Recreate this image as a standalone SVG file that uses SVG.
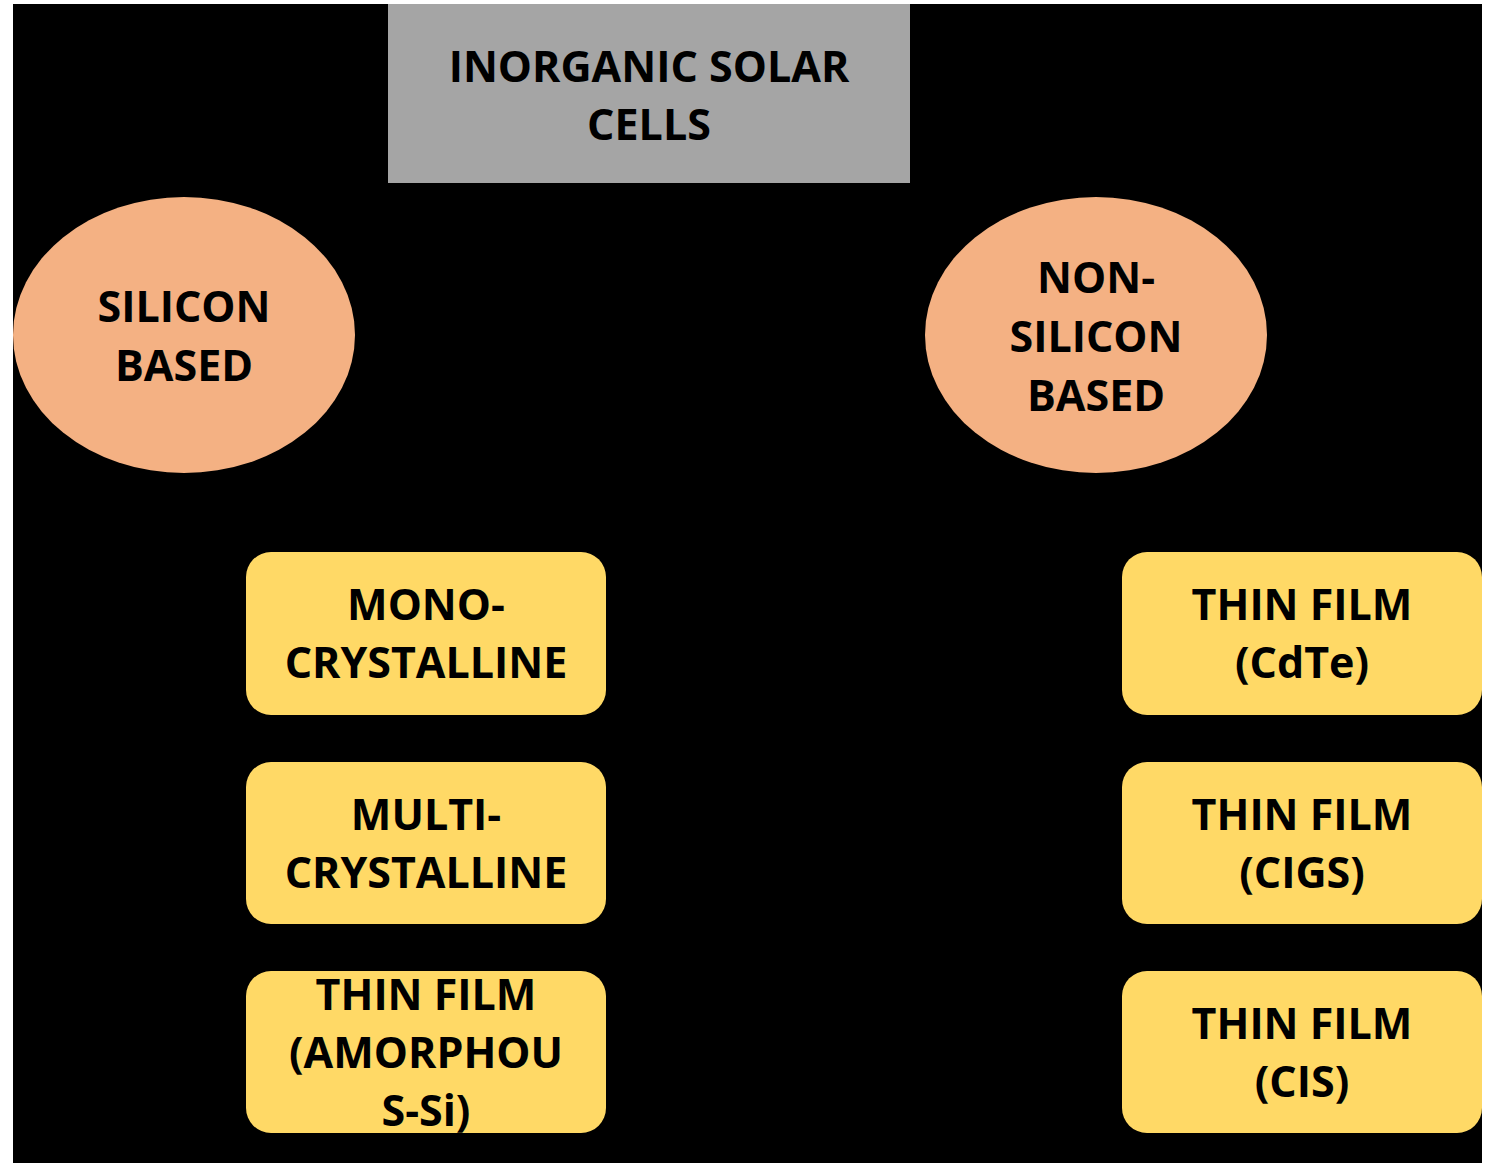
<svg xmlns="http://www.w3.org/2000/svg" width="1494" height="1164" viewBox="0 0 1494 1164">
<style>
.t{font-family:"Open Sans",Lato,"Liberation Sans",sans-serif;font-weight:bold;font-size:43px;fill:#000;text-anchor:middle}
.box{fill:#ffd966}
.ell{fill:#f4b183}
</style>
<rect x="0" y="0" width="1494" height="1164" fill="#fff"/>
<rect x="13" y="4" width="1469" height="1159" fill="#000"/>
<g id="connectors"></g>
<g id="root">
<rect x="388" y="4" width="522" height="179" fill="#a5a5a5"/>
<text class="t" x="649" y="82">INORGANIC SOLAR</text>
<text class="t" x="649" y="140">CELLS</text>
</g>
<g id="silicon">
<ellipse class="ell" cx="184" cy="335" rx="171" ry="138"/>
<text class="t" x="184" y="322">SILICON</text>
<text class="t" x="184" y="381">BASED</text>
</g>
<g id="nonsilicon">
<ellipse class="ell" cx="1096" cy="335" rx="171" ry="138"/>
<text class="t" x="1096" y="293">NON-</text>
<text class="t" x="1096" y="352">SILICON</text>
<text class="t" x="1096" y="411">BASED</text>
</g>
<g id="mono">
<rect class="box" x="246" y="552" width="360" height="163" rx="25"/>
<text class="t" x="426" y="620">MONO-</text>
<text class="t" x="426" y="678">CRYSTALLINE</text>
</g>
<g id="multi">
<rect class="box" x="246" y="762" width="360" height="162" rx="25"/>
<text class="t" x="426" y="830">MULTI-</text>
<text class="t" x="426" y="888">CRYSTALLINE</text>
</g>
<g id="amorphous">
<rect class="box" x="246" y="971" width="360" height="162" rx="25"/>
<text class="t" x="426" y="1010">THIN FILM</text>
<text class="t" x="426" y="1068">(AMORPHOU</text>
<text class="t" x="426" y="1126">S-Si)</text>
</g>
<g id="cdte">
<rect class="box" x="1122" y="552" width="360" height="163" rx="25"/>
<text class="t" x="1302" y="620">THIN FILM</text>
<text class="t" x="1302" y="678">(CdTe)</text>
</g>
<g id="cigs">
<rect class="box" x="1122" y="762" width="360" height="162" rx="25"/>
<text class="t" x="1302" y="830">THIN FILM</text>
<text class="t" x="1302" y="888">(CIGS)</text>
</g>
<g id="cis">
<rect class="box" x="1122" y="971" width="360" height="162" rx="25"/>
<text class="t" x="1302" y="1039">THIN FILM</text>
<text class="t" x="1302" y="1097">(CIS)</text>
</g>
</svg>
